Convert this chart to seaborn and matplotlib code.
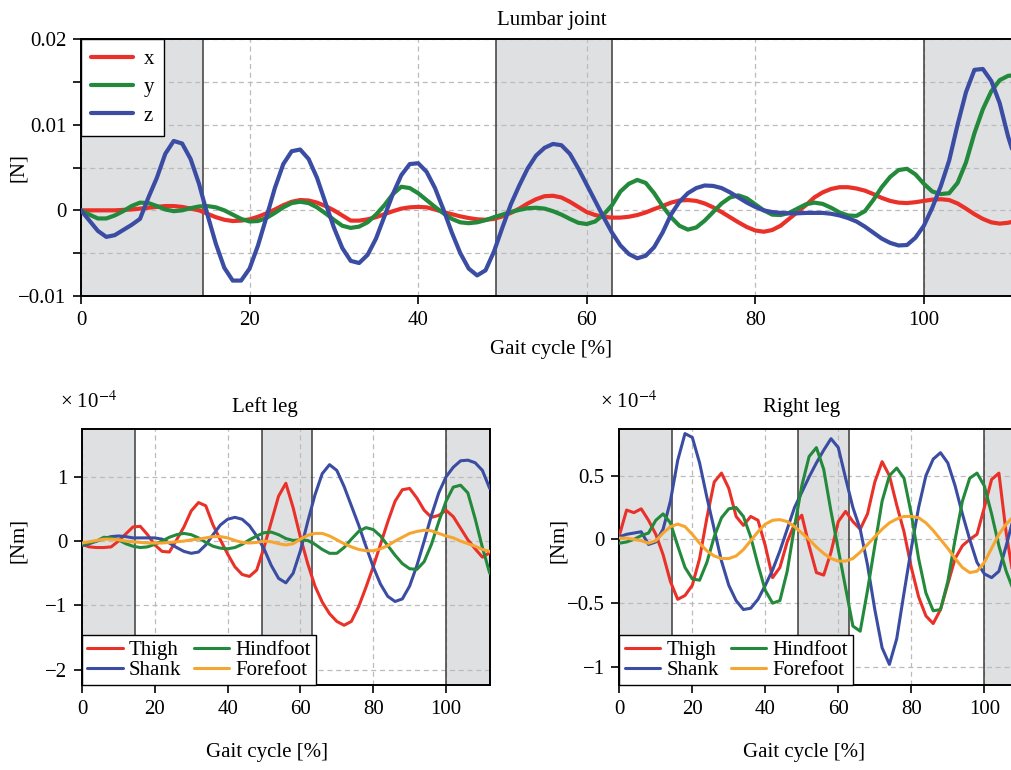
import numpy as np
import pandas as pd
import matplotlib
matplotlib.use("Agg")
import matplotlib.pyplot as plt
import seaborn as sns

# ---------------- data ----------------
gait_top = list(range(0, 113))          # gait cycle [%], lumbar panel
gait_legs = list(range(0, 113, 2))      # gait cycle [%], leg panels

# Lumbar joint, in units of 1e-3 N
lumbar_x_mN = [0, 0, 0, 0, 0, 0.05, 0.1, 0.2, 0.3, 0.4,
               0.5, 0.5, 0.4, 0.2, 0.0, -0.4, -0.8, -1.1, -1.25, -1.2,
               -1.05, -0.75, -0.35, 0.1, 0.6, 1.0, 1.2, 1.15, 0.9, 0.5,
               0.0, -0.6, -1.2, -1.2, -1.05, -0.8, -0.45, -0.1, 0.2, 0.35,
               0.4, 0.35, 0.1, -0.2, -0.45, -0.7, -0.9, -1.05, -1.1, -1.0,
               -0.7, -0.3, 0.2, 0.8, 1.3, 1.65, 1.7, 1.5, 1.0, 0.4,
               -0.2, -0.55, -0.75, -0.85, -0.85, -0.75, -0.55, -0.25, 0.15, 0.5,
               0.9, 1.15, 1.2, 1.1, 0.8, 0.35, -0.2, -0.8, -1.4, -1.95,
               -2.35, -2.5, -2.3, -1.8, -1.0, -0.2, 0.6, 1.5, 2.1, 2.5,
               2.7, 2.7, 2.55, 2.3, 1.9, 1.45, 1.1, 0.9, 0.85, 0.95,
               1.1, 1.25, 1.3, 1.2, 0.8, 0.2, -0.45, -1.0, -1.4, -1.55,
               -1.45, -1.2, -0.9]
lumbar_y_mN = [0, -0.5, -0.95, -0.95, -0.6, -0.1, 0.5, 0.9, 0.85, 0.5,
               0.1, -0.1, 0.0, 0.25, 0.45, 0.5, 0.35, 0.0, -0.5, -1.0,
               -1.3, -1.25, -0.9, -0.3, 0.35, 0.85, 1.0, 0.85, 0.35, -0.35,
               -1.1, -1.8, -2.05, -1.9, -1.4, -0.5, 0.6, 1.9, 2.75, 2.6,
               2.0, 1.2, 0.4, -0.35, -1.0, -1.4, -1.5, -1.4, -1.15, -0.8,
               -0.5, -0.2, 0.05, 0.25, 0.3, 0.2, -0.1, -0.5, -1.0, -1.45,
               -1.6, -1.3, -0.5, 0.6, 2.2, 3.1, 3.55, 3.2, 2.0, 0.5,
               -0.8, -1.8, -2.25, -2.0, -1.2, -0.2, 0.8, 1.5, 1.75, 1.4,
               0.7, 0.0, -0.5, -0.55, -0.3, 0.2, 0.7, 0.9, 0.75, 0.3,
               -0.25, -0.6, -0.65, -0.1, 1.2, 2.7, 3.9, 4.7, 4.85, 4.2,
               3.1, 2.2, 1.9, 2.0, 3.2, 5.6, 9.0, 11.8, 13.9, 15.2,
               15.7, 15.8, 15.6]
lumbar_z_mN = [0, -1.2, -2.4, -3.1, -2.9, -2.3, -1.7, -1.0, 1.5, 3.8,
               6.6, 8.1, 7.8, 6.0, 3.1, -0.5, -3.9, -6.7, -8.2, -8.2,
               -6.8, -4.1, -0.8, 2.6, 5.4, 6.9, 7.1, 6.0, 3.8, 0.9,
               -2.0, -4.4, -5.9, -6.15, -5.2, -3.3, -0.7, 1.9, 4.1, 5.4,
               5.5, 4.5, 2.6, 0.1, -2.6, -5.0, -6.8, -7.6, -7.0, -4.8,
               -2.0, 0.7, 2.9, 4.9, 6.4, 7.3, 7.75, 7.6, 6.6, 4.9,
               3.0, 1.1, -0.8, -2.6, -4.1, -5.1, -5.6, -5.3, -4.3, -2.6,
               -0.5, 1.0, 2.0, 2.6, 2.9, 2.85, 2.6, 2.1, 1.5, 0.9,
               0.4, 0.0, -0.2, -0.3, -0.35, -0.35, -0.3, -0.3, -0.3, -0.4,
               -0.6, -0.9, -1.3, -1.9, -2.6, -3.3, -3.8, -4.1, -4.05, -3.2,
               -1.8, 0.3, 2.8, 5.8, 10.0, 13.8, 16.4, 16.5, 15.1, 12.5,
               8.6, 5.5, 2.5]

# Left leg, in units of 1e-4 Nm
left_thigh = [-0.05, -0.09, -0.1, -0.1, -0.09, 0.0, 0.11, 0.22, 0.23, 0.1,
              -0.06, -0.16, -0.17, 0.02, 0.22, 0.47, 0.6, 0.55, 0.25, 0.02,
              -0.2, -0.4, -0.52, -0.55, -0.45, -0.1, 0.3, 0.7, 0.9, 0.52,
              0.06, -0.35, -0.7, -0.95, -1.13, -1.25, -1.31, -1.25, -1.02, -0.72,
              -0.4, -0.05, 0.3, 0.62, 0.8, 0.82, 0.67, 0.48, 0.37, 0.4,
              0.48, 0.38, 0.2, 0.02, -0.12, -0.25, -0.18]
left_shank = [-0.07, -0.04, 0.0, 0.04, 0.07, 0.08, 0.07, 0.05, 0.05, 0.05,
              0.05, 0.03, -0.03, -0.1, -0.16, -0.19, -0.17, -0.06, 0.1, 0.25,
              0.34, 0.37, 0.34, 0.24, 0.08, -0.12, -0.38, -0.58, -0.65, -0.5,
              -0.15, 0.3, 0.72, 1.05, 1.19, 1.1, 0.85, 0.55, 0.25, -0.08,
              -0.4, -0.67, -0.86, -0.94, -0.9, -0.7, -0.38, 0.0, 0.4, 0.75,
              1.0, 1.15, 1.25, 1.26, 1.22, 1.1, 0.82]
left_hindfoot = [-0.05, -0.03, 0.0, 0.06, 0.05, 0.02, -0.04, -0.08, -0.1, -0.09,
                 -0.05, 0.0, 0.06, 0.1, 0.12, 0.1, 0.05, -0.02, -0.08, -0.11,
                 -0.12, -0.1, -0.05, 0.02, 0.08, 0.13, 0.14, 0.1, 0.04, 0.01,
                 0.02, 0.01, -0.05, -0.13, -0.19, -0.19, -0.1, 0.03, 0.15, 0.21,
                 0.18, 0.08, -0.07, -0.22, -0.35, -0.43, -0.44, -0.32, -0.05, 0.3,
                 0.62, 0.84, 0.87, 0.75, 0.35, -0.1, -0.5]
left_forefoot = [-0.03, -0.01, 0.01, 0.03, 0.03, 0.02, 0.0, -0.01, -0.02, -0.03,
                 -0.03, -0.03, -0.02, -0.01, 0.0, 0.02, 0.03, 0.05, 0.07, 0.07,
                 0.05, 0.01, -0.02, -0.03, -0.02, 0.0, -0.01, -0.04, -0.06, -0.04,
                 0.03, 0.09, 0.12, 0.12, 0.08, 0.02, -0.04, -0.09, -0.13, -0.15,
                 -0.15, -0.12, -0.07, 0.0, 0.06, 0.12, 0.15, 0.17, 0.16, 0.12,
                 0.08, 0.05, 0.0, -0.04, -0.08, -0.13, -0.16]

# Right leg, in units of 1e-4 Nm
right_thigh = [0.03, 0.23, 0.21, 0.24, 0.15, 0.04, -0.12, -0.33, -0.47, -0.44,
               -0.36, -0.15, 0.17, 0.45, 0.52, 0.4, 0.18, 0.11, 0.18, 0.15,
               -0.05, -0.3, -0.22, -0.02, 0.12, 0.19, -0.05, -0.26, -0.28, -0.1,
               0.14, 0.22, 0.14, 0.08, 0.2, 0.45, 0.61, 0.5, 0.27, 0.06,
               -0.22, -0.45, -0.6, -0.66, -0.55, -0.35, -0.15, -0.05, 0.0, 0.04,
               0.25, 0.47, 0.52, 0.05, -0.3, -0.55, -0.6]
right_shank = [0.02, 0.04, 0.05, 0.06, -0.04, -0.02, 0.08, 0.3, 0.62, 0.83,
               0.8, 0.6, 0.33, 0.08, -0.17, -0.36, -0.48, -0.55, -0.54, -0.47,
               -0.36, -0.24, -0.09, 0.08, 0.25, 0.37, 0.49, 0.6, 0.7, 0.79,
               0.72, 0.48, 0.25, 0.08, -0.2, -0.55, -0.85, -0.98, -0.78, -0.42,
               -0.07, 0.25, 0.5, 0.63, 0.68, 0.6, 0.42, 0.2, 0.0, -0.18,
               -0.27, -0.3, -0.25, -0.05, 0.17, 0.35, 0.45]
right_hindfoot = [-0.03, -0.02, 0.0, 0.03, 0.05, 0.15, 0.2, 0.13, -0.05, -0.22,
                  -0.31, -0.32, -0.18, 0.02, 0.17, 0.24, 0.25, 0.18, 0.02, -0.2,
                  -0.4, -0.5, -0.48, -0.25, 0.1, 0.42, 0.65, 0.72, 0.55, 0.22,
                  -0.08, -0.38, -0.68, -0.72, -0.4, -0.05, 0.3, 0.5, 0.56, 0.48,
                  0.2, -0.15, -0.42, -0.56, -0.55, -0.33, 0.0, 0.3, 0.48, 0.52,
                  0.42, 0.2, -0.05, -0.25, -0.4, -0.5, -0.5]
right_forefoot = [0.01, 0.01, 0.0, -0.01, -0.03, -0.01, 0.05, 0.1, 0.12, 0.1,
                  0.04, -0.03, -0.09, -0.13, -0.15, -0.15, -0.13, -0.08, -0.01, 0.06,
                  0.12, 0.15, 0.155, 0.14, 0.1, 0.05, 0.0, -0.06, -0.11, -0.15,
                  -0.17, -0.17, -0.15, -0.1, -0.04, 0.02, 0.08, 0.13, 0.16, 0.18,
                  0.18, 0.17, 0.13, 0.07, 0.0, -0.07, -0.15, -0.22, -0.26, -0.25,
                  -0.18, -0.07, 0.04, 0.12, 0.18, 0.25, 0.3]

# shaded (double support) phases [%]
phases_top = [(0, 14.5), (49.2, 63.0), (100, 112)]
phases_left = [(0, 14.6), (49.5, 63.2), (100, 112)]
phases_right = [(0, 14.5), (49.0, 63.0), (100, 112)]

lumbar_labels = ["x", "y", "z"]
leg_labels = ["Thigh", "Shank", "Hindfoot", "Forefoot"]
x_ticks = [0, 20, 40, 60, 80, 100]

RED, GREEN, BLUE, ORANGE = "#EA3129", "#23893B", "#3A4DA2", "#F6A630"
SHADE = "#DFE0E2"

for arr in (lumbar_x_mN, lumbar_y_mN, lumbar_z_mN):
    assert len(arr) == len(gait_top)
for arr in (left_thigh, left_shank, left_hindfoot, left_forefoot,
            right_thigh, right_shank, right_hindfoot, right_forefoot):
    assert len(arr) == len(gait_legs)

# ---------------- style ----------------
sns.set_style("ticks")
plt.rcParams["font.family"] = ["Liberation Serif", "DejaVu Serif"]
plt.rcParams["mathtext.fontset"] = "stix"
plt.rcParams["text.color"] = "black"
plt.rcParams["axes.labelcolor"] = "black"
plt.rcParams["xtick.color"] = "black"
plt.rcParams["ytick.color"] = "black"
plt.rcParams["axes.edgecolor"] = "black"

FS = 15

fig = plt.figure(figsize=(10.12, 7.70), dpi=100)
ax_top = fig.add_axes([81 / 1012, 1 - 296 / 770, 944 / 1012, 257 / 770])
ax_left = fig.add_axes([82 / 1012, 1 - 685 / 770, 407.7 / 1012, 256 / 770])
ax_right = fig.add_axes([619.3 / 1012, 1 - 685 / 770, 408.8 / 1012, 256 / 770])


def setup(ax, phases, xmax=112):
    for a, b in phases:
        ax.axvspan(a, b, facecolor=SHADE, edgecolor="none", zorder=0.1)
        for e in (a, b):
            if 0 < e < xmax:
                ax.axvline(e, color="#3c3c3c", lw=1.1, zorder=1.0)
    ax.set_axisbelow(True)
    ax.grid(True, ls=(0, (4, 3)), color="#BBBBBB", lw=0.9)
    for s in ax.spines.values():
        s.set_linewidth(1.4)
        s.set_color("black")
    ax.tick_params(direction="out", length=5.5, width=1.2, labelsize=FS, pad=5)
    ax.set_xlim(0, xmax)
    ax.set_xticks(x_ticks)
    ax.set_xticklabels([str(t) for t in x_ticks])


def draw(ax, x, series, colors, lw):
    handles = []
    for y, c in zip(series, colors):
        sns.lineplot(x=x, y=y, color=c, linewidth=lw, ax=ax, legend=False,
                     estimator=None, sort=False, zorder=3,
                     solid_joinstyle="round", solid_capstyle="round")
        handles.append(ax.lines[-1])
    return handles


# ---------------- top: lumbar joint ----------------
setup(ax_top, phases_top)
top_series = [np.array(lumbar_x_mN) * 1e-3, np.array(lumbar_y_mN) * 1e-3,
              np.array(lumbar_z_mN) * 1e-3]
h = draw(ax_top, gait_top, top_series, [RED, GREEN, BLUE], 3.0)
ax_top.set_ylim(-0.01, 0.02)
ax_top.set_yticks([-0.01, -0.005, 0, 0.005, 0.01, 0.015, 0.02])
ax_top.set_yticklabels(["\u22120.01", "", "0", "", "0.01", "", "0.02"])
ax_top.set_title("Lumbar joint", fontsize=FS, x=0.499, pad=10)
ax_top.set_xlabel("Gait cycle [%]", fontsize=FS)
ax_top.xaxis.set_label_coords(0.498, -0.17)
ax_top.set_ylabel("[N]", fontsize=FS)
ax_top.yaxis.set_label_coords(-0.056, 0.5)
leg = ax_top.legend(h, lumbar_labels, loc="upper left", bbox_to_anchor=(0, 1),
                    borderaxespad=0, frameon=True, fancybox=False, edgecolor="black",
                    framealpha=1, fontsize=FS, handlelength=2.0, handletextpad=0.5,
                    labelspacing=0.42, borderpad=0.5)
leg.get_frame().set_linewidth(1.0)

# ---------------- bottom panels ----------------
panels = [
    (ax_left, phases_left, [left_thigh, left_shank, left_hindfoot, left_forefoot],
     "Left leg", (-2.24, 1.745), [-2, -1, 0, 1], ["\u22122", "\u22121", "0", "1"],
     0.449, -0.054, -0.132),
    (ax_right, phases_right, [right_thigh, right_shank, right_hindfoot, right_forefoot],
     "Right leg", (-1.142, 0.866), [-1, -0.5, 0, 0.5], ["\u22121", "\u22120.5", "0", "0.5"],
     0.446, -0.047, -0.125),
]
for ax, ph, ser, title, ylim, yt, ytl, tx, ox, lx in panels:
    setup(ax, ph)
    hh = draw(ax, gait_legs, ser, [RED, BLUE, GREEN, ORANGE], 2.2)
    ax.set_ylim(*ylim)
    ax.set_yticks(yt)
    ax.set_yticklabels(ytl)
    ax.set_title(title, fontsize=FS, x=tx, pad=12)
    ax.set_xlabel("Gait cycle [%]", fontsize=FS)
    ax.xaxis.set_label_coords(tx + 0.005, -0.228)
    ax.set_ylabel("[Nm]", fontsize=FS)
    ax.yaxis.set_label_coords(lx, 0.566)
    ax.text(ox, 1.082, "\u00d7 10$^{-4}$", transform=ax.transAxes, fontsize=15,
            ha="left", va="baseline")
    lg = ax.legend(hh, leg_labels, ncol=2, loc="lower left", bbox_to_anchor=(0, 0),
                   borderaxespad=0, frameon=True, fancybox=False, edgecolor="black",
                   framealpha=1, fontsize=FS, handlelength=1.7, handletextpad=0.3,
                   columnspacing=0.6, labelspacing=0.0, borderpad=0.25)
    lg.get_frame().set_linewidth(1.0)

fig.savefig("out.png", dpi=100)
